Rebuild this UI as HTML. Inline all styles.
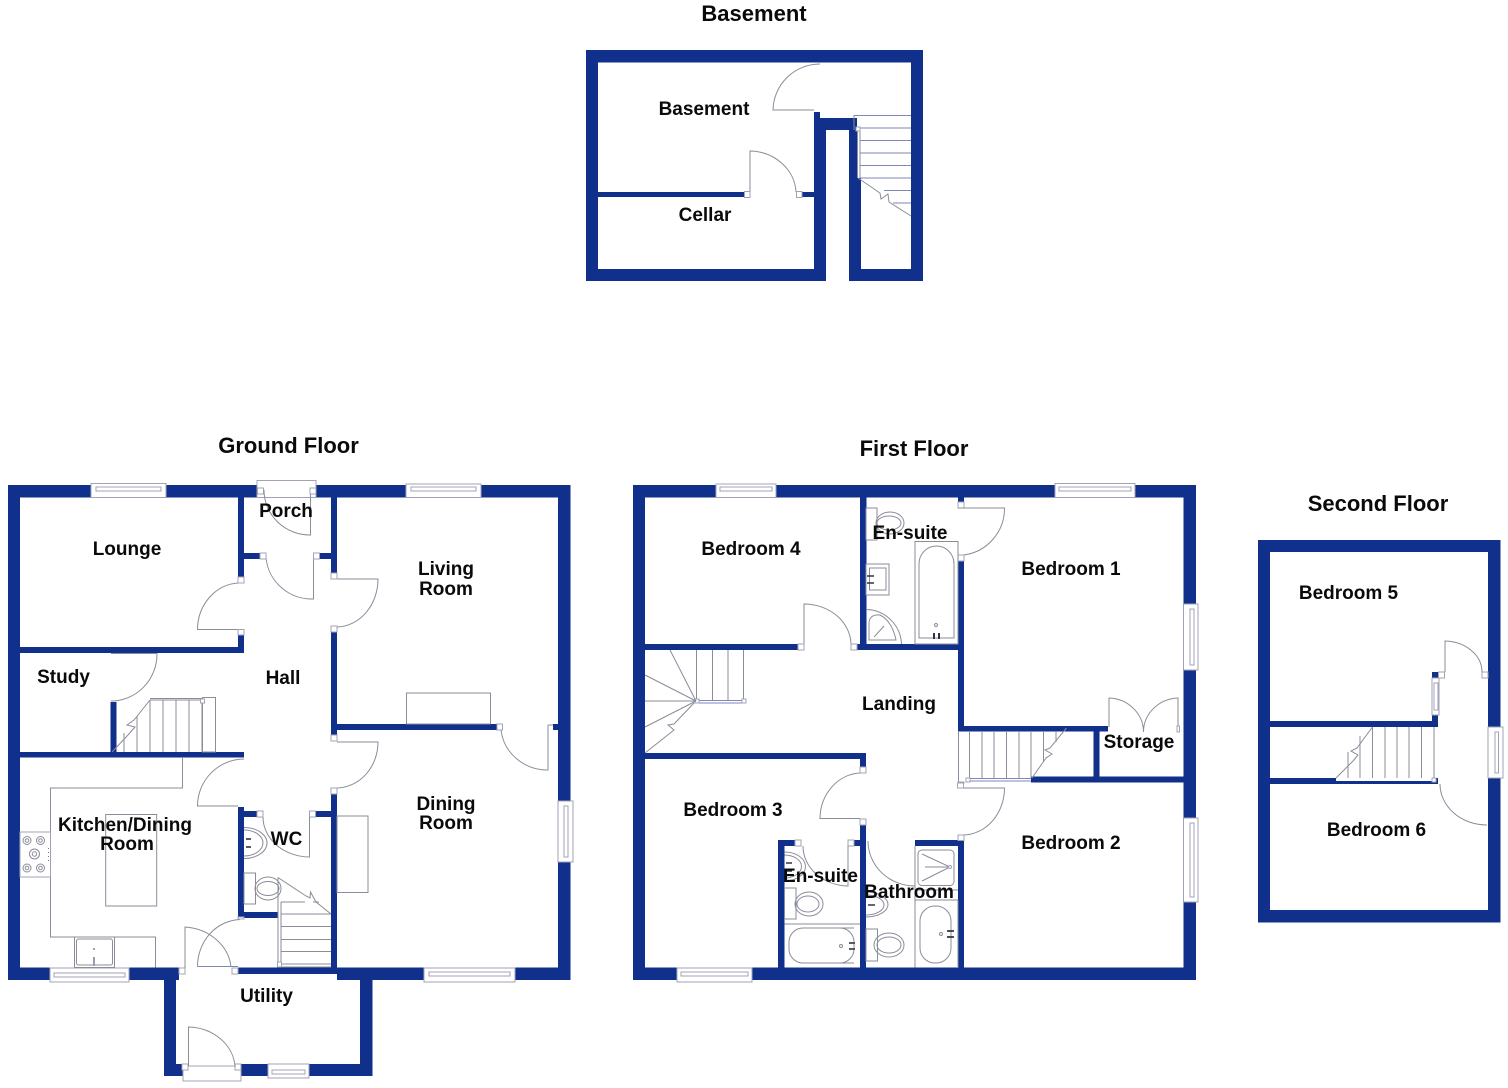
<!DOCTYPE html>
<html><head><meta charset="utf-8"><style>
html,body{margin:0;padding:0;background:#fff;width:1508px;height:1088px;overflow:hidden}
svg{display:block}
.w{fill:#10308b;stroke:none}
.l{fill:none;stroke:#8a8d9a;stroke-width:1}
.s{fill:#fff;stroke:#a0a3b4;stroke-width:1}
.b{fill:none;stroke:#7f86b8;stroke-width:1}
text{font-family:"Liberation Sans",Arial,sans-serif;font-weight:bold;fill:#0a0a0a;text-anchor:middle;font-size:19px}
.t{font-size:22px}
</style></head><body>
<svg width="1508" height="1088" viewBox="0 0 1508 1088" xmlns="http://www.w3.org/2000/svg">
<!-- BASEMENT walls -->
<g class="w">
<rect x="586" y="50" width="337" height="12.5"/>
<rect x="586" y="50" width="12" height="231"/>
<rect x="911" y="50" width="12" height="231"/>
<rect x="586" y="269" width="240" height="12"/>
<rect x="849" y="269" width="74" height="12"/>
<rect x="814" y="112" width="6" height="157"/>
<rect x="814" y="118" width="12" height="163"/>
<rect x="814" y="118" width="41" height="12"/>
<rect x="849" y="118" width="8" height="163"/>
<rect x="857" y="178" width="4" height="103"/>
<rect x="598" y="192" width="146" height="5"/>
<rect x="802" y="192" width="12" height="5"/>
</g>
<g>
<path class="l" d="M814 110H773A47 47 0 0 1 820 64"/>
<path class="l" d="M750 192V151A47 43 0 0 1 796 192"/>
<rect class="s" x="744.5" y="191.5" width="5.500" height="6"/>
<rect class="s" x="796.500" y="191.500" width="5.500" height="6"/>
<path class="b" d="M854 115.500H911M858 128H911M860 140.500H911M860 153H911M860 165.500H911M860 178H911M884 190.500H911M893 203H911"/>
<path class="l" d="M854 115V130M857.500 130V178M860 130V178"/>
<rect class="s" x="856" y="127" width="4" height="4"/>
<path class="l" d="M858 178L880 193L881 199L888 194L889 202L911 216"/>
</g>
<!-- GROUND walls -->
<g class="w">
<rect x="8" y="485" width="250" height="12.500"/>
<rect x="316" y="485" width="254" height="12.500"/>
<rect x="8" y="485" width="12" height="495"/>
<rect x="558" y="485" width="12.500" height="495"/>
<rect x="8" y="967.500" width="171" height="12.500"/>
<rect x="238" y="967.500" width="332.500" height="6.500"/>
<rect x="337" y="967.500" width="233.500" height="12.500"/>
<rect x="164" y="967.500" width="12" height="108.500"/>
<rect x="360" y="967.500" width="12.500" height="108.500"/>
<rect x="164" y="1064" width="20" height="12"/>
<rect x="241" y="1064" width="131.500" height="12"/>
<rect x="238" y="497" width="6" height="80"/>
<rect x="238" y="635" width="6" height="18"/>
<rect x="20" y="647" width="224" height="6"/>
<rect x="244" y="553" width="16" height="6"/>
<rect x="319" y="553" width="12" height="6"/>
<rect x="331" y="497" width="6" height="76"/>
<rect x="331" y="632" width="6" height="103"/>
<rect x="337" y="724" width="160" height="6"/>
<rect x="553" y="724" width="5" height="6"/>
<rect x="331" y="794" width="6" height="174"/>
<rect x="20" y="752" width="224" height="5.500"/>
<rect x="110.500" y="702" width="6" height="50"/>
<rect x="238" y="807" width="6" height="111"/>
<rect x="244" y="811" width="13" height="6"/>
<rect x="315" y="811" width="16" height="6"/>
<rect x="244" y="912" width="34" height="6"/>
</g>
<g>
<!-- ground windows -->
<rect class="s" x="91" y="483.500" width="75" height="14"/><rect class="s" x="96" y="487" width="65" height="4"/>
<rect class="s" x="406" y="484" width="75" height="13.500"/><rect class="s" x="411" y="487" width="65" height="4"/>
<rect class="s" x="50" y="968" width="79" height="14"/><rect class="s" x="54" y="973" width="71" height="4"/>
<rect class="s" x="424" y="968" width="91" height="14"/><rect class="s" x="429" y="972" width="81" height="4"/>
<rect class="s" x="558" y="801" width="15" height="61"/><rect class="s" x="564" y="806" width="4" height="51"/>
<rect class="s" x="268" y="1064" width="41" height="14"/><rect class="s" x="272" y="1070" width="33" height="4"/>
<rect class="s" x="257" y="480.500" width="59" height="17"/>
<rect class="s" x="257.500" y="488" width="6" height="6"/><rect class="s" x="310" y="488" width="6" height="6"/>
<rect class="s" x="183" y="1066" width="58" height="15"/>
<rect class="s" x="182" y="1064" width="6" height="6"/><rect class="s" x="235" y="1064" width="6" height="6"/>
<!-- ground doors -->
<path class="l" d="M310.500 494V535A46 45 0 0 1 264 490"/>
<path class="l" d="M313.500 554V599A46 46 0 0 1 266 558"/>
<rect class="s" x="260" y="553" width="6" height="6"/><rect class="s" x="313.500" y="553" width="6" height="6"/>
<path class="l" d="M238 629.500H197.500A43 47 0 0 1 238 583"/>
<rect class="s" x="238" y="577" width="6" height="6"/><rect class="s" x="238" y="629.500" width="6" height="5.500"/>
<path class="l" d="M337 579H378A42 48 0 0 1 337 627"/>
<rect class="s" x="331" y="573" width="6" height="6"/><rect class="s" x="331" y="626" width="6" height="6"/>
<path class="l" d="M337 742H378A42 46 0 0 1 337 788"/>
<rect class="s" x="331" y="735" width="6" height="6"/><rect class="s" x="331" y="788" width="6" height="6"/>
<path class="l" d="M244 759A47 47 0 0 0 197.500 806H238"/>
<path class="l" d="M111 653.500H157A46 47 0 0 1 111 701"/>
<path class="l" d="M548 725V770A47 45 0 0 1 501 730"/>
<rect class="s" x="497" y="724" width="5.500" height="6"/>
<path class="l" d="M553 725H548"/>
<!-- fireplace, dining -->
<rect class="l" x="406.500" y="693" width="84" height="31"/>
<rect class="l" x="337" y="816" width="31" height="76.500"/>
<!-- study stairs -->
<rect class="l" x="202.500" y="697.500" width="13" height="54.500"/>
<path class="l" d="M150 700H202M124 752V733M137 752V716M150 700V752M163 700V752M176 700V752M189 700V752M202 700V752M150 698.500H203"/>
<rect class="s" x="200.500" y="699" width="4" height="4"/>
<path class="l" d="M150 700L134 720L127 725L135 727L128 735L112 752"/>
<!-- kitchen -->
<path class="l" d="M182.500 757V788H50.500V937H155.500V967.500"/>
<rect class="s" x="20" y="832" width="30.500" height="45"/>
<circle class="l" cx="27" cy="840.500" r="4"/><circle class="l" cx="27" cy="840.500" r="1.800"/>
<circle class="l" cx="40.500" cy="840.500" r="4"/><circle class="l" cx="40.500" cy="840.500" r="1.800"/>
<circle class="l" cx="34.500" cy="854" r="5"/><circle class="l" cx="34.500" cy="854" r="2.200"/>
<circle class="l" cx="27" cy="868" r="4"/><circle class="l" cx="27" cy="868" r="1.800"/>
<circle class="l" cx="40.500" cy="868" r="4"/><circle class="l" cx="40.500" cy="868" r="1.800"/>
<path d="M48.500 848V862" stroke="#777" stroke-width="1" stroke-dasharray="1 3"/>
<rect class="l" x="105.700" y="814.500" width="51" height="91.500"/>
<rect class="l" x="74.500" y="937" width="40" height="30.500"/>
<rect class="l" x="76.500" y="939" width="36" height="26" rx="2"/>
<path d="M94 957V966" stroke="#9a9ab0" stroke-width="2"/><circle cx="94" cy="949" r="1" fill="#888"/>
<!-- WC -->
<rect class="s" x="257" y="811" width="6" height="6"/><rect class="s" x="309.500" y="811" width="6" height="6"/>
<path class="l" d="M309.500 817V857A47 40 0 0 1 263 817"/>
<path class="l" d="M244 827.500A23 15.500 0 0 1 244 858.500"/>
<path class="l" d="M244 830A19 13 0 0 1 244 856"/>
<path d="M246 839H251M246 847H251" stroke="#223" stroke-width="1.500"/>
<rect class="l" x="244" y="873" width="11.500" height="31"/>
<ellipse class="l" cx="268" cy="888.500" rx="13" ry="11.500"/><ellipse class="l" cx="268" cy="888.500" rx="11" ry="7"/>
<!-- WC stairs -->
<path class="l" d="M278 877.500V967M281 902V967M278 877.500L306 896L310 898L310.500 892L316 902L331 914"/>
<path class="l" d="M281 902H305M313 902H319M281 914H331M281 926.500H331M281 939.500H331M281 951.500H331M281 964H331M281 967H331"/>
<rect class="s" x="277.500" y="962" width="4" height="5"/>
<!-- kitchen/utility doors -->
<rect class="s" x="179" y="968" width="6" height="6"/><rect class="s" x="232" y="968" width="6" height="6"/>
<path class="l" d="M185 968V927A50 44 0 0 1 231 967"/>
<path class="b" d="M197.500 966.500H238"/>
<path class="l" d="M197.500 966.500A44 47 0 0 1 240 919.500"/>
<rect class="s" x="238" y="917" width="6" height="2"/>
<path class="l" d="M188.500 1066V1027A48 42 0 0 1 235 1067"/>
<!-- FIRST walls -->
</g>
<g class="w">
<rect x="633" y="485" width="563" height="12.500"/>
<rect x="633" y="485" width="12" height="495"/>
<rect x="1183.500" y="485" width="12.500" height="495"/>
<rect x="633" y="967.500" width="563" height="12.500"/>
<rect x="645" y="644" width="153" height="6"/>
<rect x="857" y="644" width="107" height="6"/>
<rect x="860" y="497" width="6.500" height="153"/>
<rect x="958" y="497" width="6" height="5"/>
<rect x="958" y="561" width="6" height="170"/>
<rect x="958" y="726" width="150" height="5.500"/>
<rect x="1093.500" y="731" width="6" height="46"/>
<rect x="1031" y="776.500" width="152.500" height="6"/>
<rect x="645" y="753" width="221" height="6"/>
<rect x="860" y="753" width="6" height="14"/>
<rect x="860" y="825" width="6" height="143"/>
<rect x="778" y="840" width="6.500" height="128"/>
<rect x="778" y="840" width="17" height="6"/>
<rect x="854" y="840" width="6" height="6"/>
<rect x="915" y="840" width="49" height="6"/>
<rect x="958" y="840" width="6" height="128"/>
</g>
<g>
<!-- first windows -->
<rect class="s" x="716" y="484" width="60" height="13.500"/><rect class="s" x="720" y="487" width="52" height="4"/>
<rect class="s" x="1055" y="483.500" width="80" height="14"/><rect class="s" x="1059" y="487" width="72" height="4"/>
<rect class="s" x="677" y="968" width="75" height="14"/><rect class="s" x="681" y="972" width="67" height="4"/>
<rect class="s" x="1183.500" y="604" width="14.500" height="66"/><rect class="s" x="1190" y="609" width="4" height="56"/>
<rect class="s" x="1183.500" y="818" width="14.500" height="84"/><rect class="s" x="1190" y="823" width="4" height="74"/>
<!-- first doors -->
<path class="l" d="M804 644V604A47 41 0 0 1 851 644"/>
<rect class="s" x="798" y="644" width="6" height="6"/><rect class="s" x="851" y="644" width="6" height="6"/>
<rect class="s" x="958" y="502" width="6" height="6"/><rect class="s" x="958" y="555" width="6" height="6"/>
<path class="l" d="M958 508H1004.500A47 47 0 0 1 964 555"/>
<rect class="s" x="860" y="767" width="6" height="6"/><rect class="s" x="860" y="819" width="6" height="6"/>
<path class="l" d="M860 818.500H820A42 46 0 0 1 860 773"/>
<rect class="s" x="957.500" y="783" width="6" height="5"/><rect class="s" x="958" y="835" width="6" height="5.500"/>
<path class="l" d="M964 788H1004.500A42 47 0 0 1 964 835"/>
<rect class="s" x="795" y="840" width="6" height="6"/><rect class="s" x="848" y="840" width="6" height="6"/>
<path class="l" d="M848 846V886A46 40 0 0 1 803 846"/>
<path class="l" d="M868 841A47 45 0 0 0 915 886"/>
<!-- landing stairs -->
<path class="l" d="M696.500 650V700M712.500 650V700M728 650V700M743.500 650V700"/>
<path class="b" d="M696 700.500H744M696 703H744"/>
<rect class="s" x="695" y="699" width="4" height="4"/><rect class="s" x="742" y="699" width="4" height="4"/>
<path class="l" d="M696 701L670 650M696 701L645 675M696 701H645M696 701L645 727"/>
<path class="l" d="M694 703L674 724L668 725L674 730L645 753"/>
<!-- en-suite 1 -->
<rect class="l" x="866" y="508" width="11" height="32"/>
<ellipse class="l" cx="890" cy="523" rx="14" ry="11"/><ellipse class="l" cx="889" cy="523" rx="12" ry="7"/>
<rect class="l" x="915" y="541.500" width="43" height="102.500"/>
<path class="l" d="M919 638V564A17.500 18 0 0 1 954 564V638Z"/>
<circle class="l" cx="936" cy="625" r="1.500"/>
<path d="M934 633V639M939 633V639" stroke="#334" stroke-width="2"/>
<rect class="l" x="866" y="564" width="23" height="31"/>
<rect class="l" x="869.500" y="568" width="16.500" height="22"/>
<path d="M867 576H874M867 583H874" stroke="#334" stroke-width="1.500"/>
<path class="l" d="M866 609.500A36 36 0 0 1 901.500 644"/>
<path class="l" d="M869 640V624Q869 614 880 615Q892 621 896 640Z"/>
<path class="l" d="M874 637L884 626"/>
<!-- storage doors, stairs -->
<path class="l" d="M1109 727V698A36 34 0 0 1 1143.500 732A36 34 0 0 1 1178 698V732"/>
<rect class="s" x="1177" y="726" width="2.500" height="6"/>
<path class="l" d="M958.500 731V783M969.500 731V778M982 731V778M994 731V778M1006.500 731V778M1019 731V778M1031 731V778M1043.500 731V762M1056 731V742"/>
<path class="b" d="M968 778.500H1031M968 781H1031"/>
<rect class="s" x="966" y="778" width="4" height="4"/>
<rect class="s" x="958" y="782" width="6" height="1"/>
<path class="l" d="M1066.500 728L1050 748L1045 750L1052 754L1046 758L1032 778"/>
<!-- en-suite 3 -->
<path class="l" d="M784.500 852A21 14.500 0 0 1 784.500 881"/>
<path class="l" d="M784.500 855A17 11.500 0 0 1 784.500 878"/>
<path d="M786 863H792M786 871H792" stroke="#334" stroke-width="1.500"/>
<rect class="l" x="784.500" y="888" width="11.500" height="31"/>
<ellipse class="l" cx="809" cy="904" rx="14" ry="12"/><ellipse class="l" cx="808" cy="904" rx="11" ry="8"/>
<path class="l" d="M784.500 924H860"/>
<rect class="l" x="789" y="928" width="65" height="35" rx="14"/>
<path class="l" d="M854 928H840M854 963H840"/>
<path d="M849 943H855M849 949H855" stroke="#445" stroke-width="1.800"/>
<circle class="l" cx="841" cy="946" r="1.500"/>
<!-- bathroom fixtures -->
<path class="l" d="M915 846V967.500"/>
<rect class="l" x="918" y="850" width="36" height="35.500" rx="4"/>
<path class="l" d="M922 854L950 867L922 881M925 867H950"/>
<circle class="s" cx="950" cy="867" r="1.500"/>
<path class="l" d="M915 890H958M915 900H958"/>
<path class="l" d="M958 900V968"/>
<rect class="l" x="920" y="906" width="31" height="57" rx="15"/>
<path d="M947 931H954M947 937H954" stroke="#334" stroke-width="1.800"/>
<circle class="l" cx="941" cy="934" r="1.500"/>
<rect class="l" x="866" y="929" width="11.500" height="32"/>
<ellipse class="l" cx="889" cy="945" rx="15" ry="12"/><ellipse class="l" cx="889" cy="945" rx="12" ry="8"/>
<path class="l" d="M866 892A22 12.500 0 0 1 866 917M866 895A18 10 0 0 1 866 915"/>
<path d="M868 905H875" stroke="#334" stroke-width="1.500"/>
<!-- SECOND -->
</g>
<g class="w">
<rect x="1258" y="540" width="242.500" height="12"/>
<rect x="1258" y="540" width="12" height="382.500"/>
<rect x="1488" y="540" width="12.500" height="382.500"/>
<rect x="1258" y="910" width="242.500" height="12.500"/>
<rect x="1270" y="721" width="168" height="6"/>
<rect x="1432" y="715" width="6" height="12"/>
<rect x="1432" y="672" width="6" height="6"/>
<rect x="1270" y="778" width="168" height="6"/>
</g>
<g>
<rect class="s" x="1432" y="678" width="7" height="37"/><rect class="s" x="1434" y="683" width="4" height="27"/>
<rect class="s" x="1438.500" y="672" width="6" height="6"/>
<rect class="s" x="1482" y="672" width="6" height="6"/>
<path class="l" d="M1445 672V641A38 31 0 0 1 1482 672"/>
<rect class="s" x="1488" y="727" width="15" height="51"/><rect class="s" x="1495" y="732" width="3.500" height="41"/>
<path class="l" d="M1440 784A47 41 0 0 0 1487 825"/>
<path class="l" d="M1348 752V778M1360 736V778M1372.500 727V778M1385 727V778M1397 727V778M1409 727V778M1421.500 727V778M1434 727V778"/>
<rect x="1336" y="778" width="98" height="3" fill="#fff"/>
<rect class="s" x="1432" y="778" width="4" height="4"/>
<path class="l" d="M1372.500 727L1357 748L1351 751L1358 755L1353 761L1336 778"/>
<!-- LABELS -->
<text class="t" x="754" y="21">Basement</text>
<text class="t" x="288.500" y="453">Ground Floor</text>
<text class="t" x="914" y="456">First Floor</text>
<text class="t" x="1378" y="511">Second Floor</text>
<text x="704" y="115">Basement</text>
<text x="705" y="221">Cellar</text>
<text x="286" y="517">Porch</text>
<text x="127" y="555">Lounge</text>
<text x="446" y="575">Living</text>
<text x="446" y="595">Room</text>
<text x="63.500" y="683">Study</text>
<text x="283" y="684">Hall</text>
<text x="125" y="831">Kitchen/Dining</text>
<text x="127" y="850">Room</text>
<text x="446" y="810">Dining</text>
<text x="446" y="829">Room</text>
<text x="286.500" y="845">WC</text>
<text x="266.500" y="1002">Utility</text>
<text x="751" y="555">Bedroom 4</text>
<text x="910" y="539">En-suite</text>
<text x="1071" y="575">Bedroom 1</text>
<text x="899" y="710">Landing</text>
<text x="1139" y="748">Storage</text>
<text x="733" y="816">Bedroom 3</text>
<text x="820.500" y="882">En-suite</text>
<text x="909" y="898">Bathroom</text>
<text x="1071" y="849">Bedroom 2</text>
<text x="1348.500" y="599">Bedroom 5</text>
<text x="1376.500" y="836">Bedroom 6</text>
</g>
</svg>
</body></html>
